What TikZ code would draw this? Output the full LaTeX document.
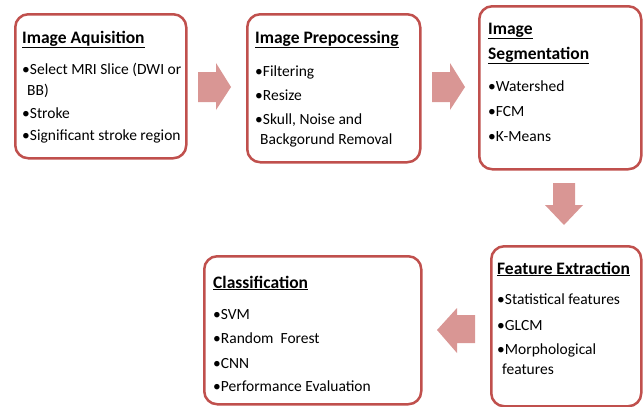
\documentclass[tikz,border=0pt]{standalone}
\usepackage{fontspec}
\setmainfont{Carlito}
\definecolor{boxred}{RGB}{192,80,77}
\definecolor{arrowpink}{RGB}{217,150,148}
\tikzset{
  stage/.style={draw=boxred, line width=2.5pt, rounded corners=13pt, fill=white, anchor=north west, inner sep=0pt},
  ttl/.style={anchor=base west, inner sep=0pt, font=\fontsize{17.5}{20}\selectfont\bfseries},
  itm/.style={anchor=base west, inner sep=0pt, font=\fontsize{15.5}{18}\selectfont},
  blockarrow/.style={fill=arrowpink, draw=none}
}
\begin{document}
\begin{tikzpicture}[x=1pt,y=-1pt]
\useasboundingbox (0,0) rectangle (643,407);
% boxes
\node[stage, minimum width=171, minimum height=144] (b1) at (14,13) {};
\node[stage, minimum width=173, minimum height=148] (b2) at (246,13) {};
\node[stage, minimum width=162, minimum height=163] (b3) at (478,5) {};
\node[stage, minimum width=217, minimum height=148] (b4) at (203,255) {};
\node[stage, minimum width=150, minimum height=160] (b5) at (490,245) {};
% box 1
\node[ttl] (t1) at (22,43) {\underline{Image Aquisition}};
\node[itm] (t1a) at (22,74) {•Select MRI Slice (DWI or};
\node[itm] (t1b) at (27,95) {BB)};
\node[itm] (t1c) at (22,118) {•Stroke};
\node[itm] (t1d) at (22,140) {•Significant stroke region};
% box 2
\node[ttl] (t2) at (255,43) {\underline{Image Prepocessing}};
\node[itm] (t2a) at (255,76) {•Filtering};
\node[itm] (t2b) at (255,100) {•Resize};
\node[itm] (t2c) at (255,124) {•Skull, Noise and};
\node[itm] (t2d) at (260,144) {Backgorund Removal};
% box 3
\node[ttl] (t3) at (488,34) {\underline{Image}};
\node[ttl] (t3x) at (488,59) {\underline{Segmentation}};
\node[itm] (t3a) at (488,91) {•Watershed};
\node[itm] (t3b) at (488,116) {•FCM};
\node[itm] (t3c) at (488,141) {•K-Means};
% box 4
\node[ttl] (t4) at (213,288) {\underline{Classification}};
\node[itm] (t4a) at (213,319) {•SVM};
\node[itm] (t4b) at (213,343) {•Random\ \ Forest};
\node[itm] (t4c) at (213,368) {•CNN};
\node[itm] (t4d) at (213,391) {•Performance Evaluation};
% box 5
\node[ttl] (t5) at (497,274) {\underline{Feature Extraction}};
\node[itm] (t5a) at (497,304) {•Statistical features};
\node[itm] (t5b) at (497,330) {•GLCM};
\node[itm] (t5c) at (497,354) {•Morphological};
\node[itm] (t5d) at (502,374) {features};
% block arrows
\fill[blockarrow] (198,72) -- (216,72) -- (216,63) -- (231,87) -- (216,110) -- (216,102) -- (198,102) -- cycle;
\fill[blockarrow] (432,72) -- (450,72) -- (450,63) -- (465,87) -- (450,110) -- (450,102) -- (432,102) -- cycle;
\fill[blockarrow] (553,183) -- (575,183) -- (575,205) -- (583,205) -- (564,225) -- (545,205) -- (553,205) -- cycle;
\fill[blockarrow] (475,315) -- (457,315) -- (457,308) -- (437,330) -- (457,353) -- (457,343) -- (475,343) -- cycle;
\end{tikzpicture}
\end{document}
